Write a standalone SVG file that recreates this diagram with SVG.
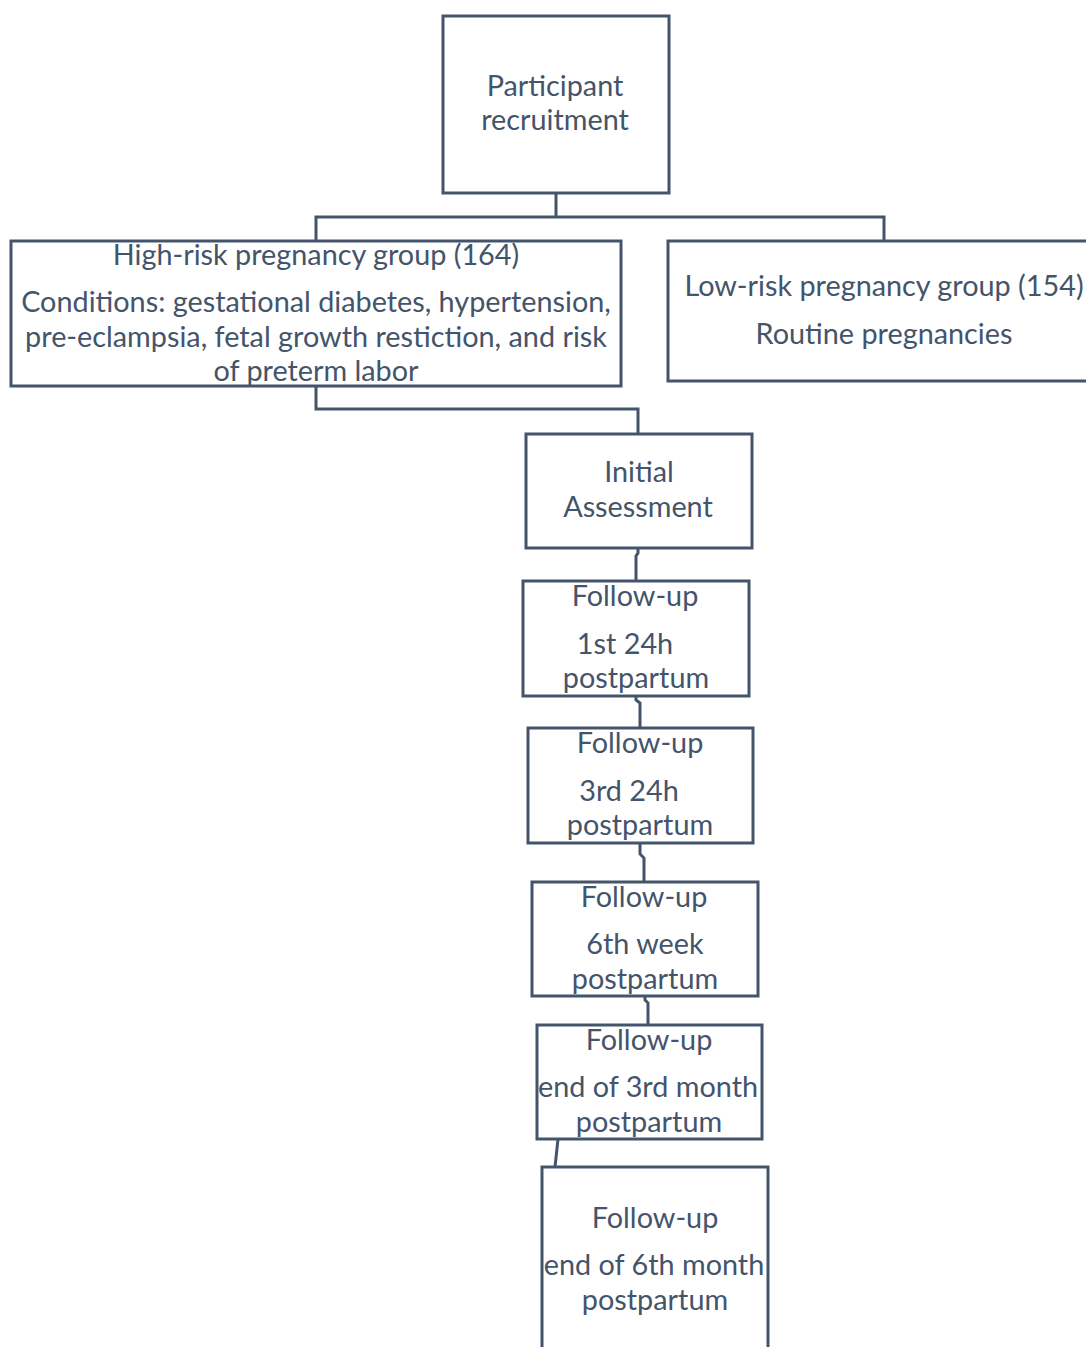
<svg xmlns="http://www.w3.org/2000/svg" width="1086" height="1347" viewBox="0 0 1086 1347">
<style>
.box{fill:#fff;stroke:#44546A;stroke-width:3}
.ln{fill:none;stroke:#44546A;stroke-width:3}
text{font-family:Lato,"Open Sans","Liberation Sans",sans-serif;font-size:28.8px;fill:#44546A;text-anchor:middle}
</style>
<rect width="1086" height="1347" fill="#fff"/>
<g id="connectors">
<path class="ln" d="M556 193V217M316 241V217H884V241"/>
<path class="ln" d="M316 386V409H638V434"/>
<path class="ln" d="M638 548V553L636 556V581"/>
<path class="ln" d="M636 696V700L640 703V728"/>
<path class="ln" d="M640 843V854L644 858V882"/>
<path class="ln" d="M645 996V1000L648 1003V1025"/>
<path class="ln" d="M558 1139L555 1167"/>
</g>
<g id="n1"><rect class="box" x="443" y="16" width="226" height="177"/>
<text x="555" y="96">Participant</text><text x="555" y="130">recruitment</text></g>
<g id="n2"><rect class="box" x="11" y="241" width="610" height="145"/>
<text x="316" y="265">High-risk pregnancy group (164)</text>
<text x="316" y="312">Conditions: gestational diabetes, hypertension,</text>
<text x="316" y="347">pre-eclampsia, fetal growth restiction, and risk</text>
<text x="316" y="381">of preterm labor</text></g>
<g id="n3"><rect class="box" x="668" y="241" width="430" height="140"/>
<text x="884" y="296">Low-risk pregnancy group (154)</text>
<text x="884" y="344">Routine pregnancies</text></g>
<g id="n4"><rect class="box" x="526" y="434" width="226" height="114"/>
<text x="639" y="482">Initial</text><text x="638" y="517">Assessment</text></g>
<g id="n5"><rect class="box" x="523" y="581" width="226" height="115"/>
<text x="635" y="606">Follow-up</text><text x="625" y="654">1st 24h</text><text x="636" y="688">postpartum</text></g>
<g id="n6"><rect class="box" x="528" y="728" width="225" height="115"/>
<text x="640" y="753">Follow-up</text><text x="629" y="801">3rd 24h</text><text x="640" y="835">postpartum</text></g>
<g id="n7"><rect class="box" x="532" y="882" width="226" height="114"/>
<text x="644" y="907">Follow-up</text><text x="645" y="954">6th week</text><text x="645" y="989">postpartum</text></g>
<g id="n8"><rect class="box" x="537" y="1025" width="225" height="114"/>
<text x="649" y="1050">Follow-up</text><text x="648" y="1097">end of 3rd month</text><text x="649" y="1132">postpartum</text></g>
<g id="n9"><rect class="box" x="542" y="1167" width="226" height="200"/>
<text x="655" y="1228">Follow-up</text><text x="654" y="1275">end of 6th month</text><text x="655" y="1310">postpartum</text></g>
</svg>
